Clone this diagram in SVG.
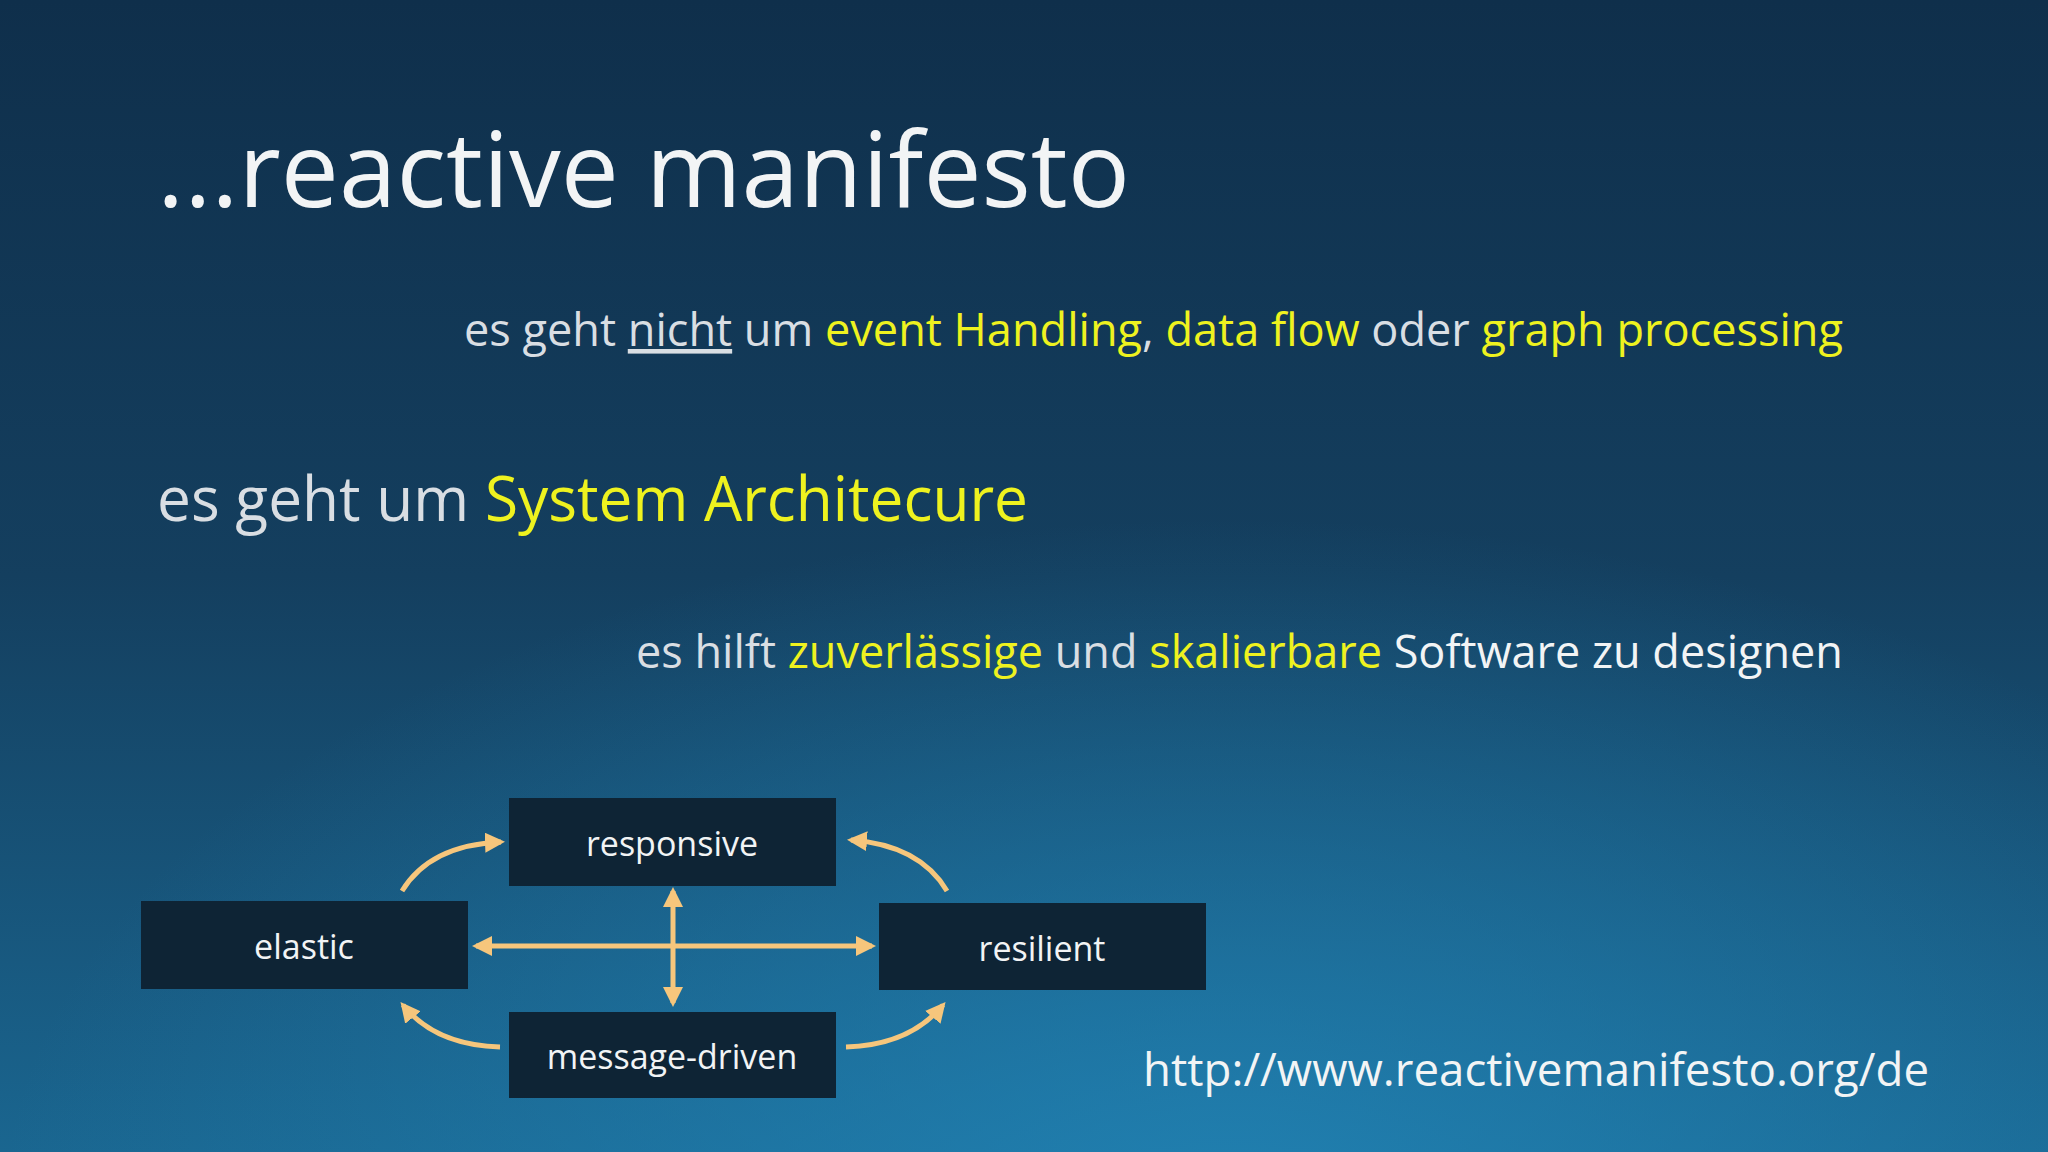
<svg xmlns="http://www.w3.org/2000/svg" width="2048" height="1152" viewBox="0 0 2048 1152">
<defs>
<linearGradient id="bg" x1="0" y1="0" x2="0" y2="1">
<stop offset="0" stop-color="#0f2f4b"/>
<stop offset="0.5" stop-color="#143f5f"/>
<stop offset="1" stop-color="#1a6690"/>
</linearGradient>
<radialGradient id="glow" cx="0.6" cy="1.05" r="0.6">
<stop offset="0" stop-color="#2286b8" stop-opacity="0.8"/>
<stop offset="1" stop-color="#2286b8" stop-opacity="0"/>
</radialGradient>
<marker id="ah" viewBox="0 0 10 10" refX="8" refY="5" markerWidth="4" markerHeight="4" orient="auto-start-reverse">
<path d="M0,0 L10,5 L0,10 z" fill="#f6c67c"/>
</marker>
<style>
text{font-family:"Open Sans","Noto Sans",sans-serif}
.g{fill:#d9dee3}
.y{fill:#eef21f}
.w{fill:#f2f4f5}
.box{fill:#0e2435}
.lbl{font-size:34px;fill:#f2f4f5;text-anchor:middle}
.ar{fill:none;stroke:#f6c67c;stroke-width:5;marker-end:url(#ah)}
.ar2{fill:none;stroke:#f6c67c;stroke-width:5;marker-end:url(#ah);marker-start:url(#ah)}
</style>
</defs>
<rect width="2048" height="1152" fill="url(#bg)"/>
<rect width="2048" height="1152" fill="url(#glow)"/>
<text x="157" y="207" font-size="104" class="w" textLength="973" lengthAdjust="spacingAndGlyphs">...reactive manifesto</text>
<text x="464" y="346" font-size="46" textLength="1379" lengthAdjust="spacingAndGlyphs"><tspan class="g">es geht </tspan><tspan class="g" text-decoration="underline">nicht</tspan><tspan class="g"> um </tspan><tspan class="y">event Handling</tspan><tspan class="g">, </tspan><tspan class="y">data flow</tspan><tspan class="g"> oder </tspan><tspan class="y">graph processing</tspan></text>
<text x="157" y="521" font-size="62" textLength="871" lengthAdjust="spacingAndGlyphs"><tspan class="g">es geht um </tspan><tspan class="y">System Architecure</tspan></text>
<text x="636" y="668" font-size="46" textLength="1207" lengthAdjust="spacingAndGlyphs"><tspan class="g">es hilft </tspan><tspan class="y">zuverlässige</tspan><tspan class="g"> und </tspan><tspan class="y">skalierbare</tspan><tspan class="w"> Software zu designen</tspan></text>
<text x="1143" y="1086" font-size="46" class="w" textLength="786" lengthAdjust="spacingAndGlyphs">http://www.reactivemanifesto.org/de</text>
<g id="connectors">
<line class="ar2" x1="476" y1="946" x2="872" y2="946"/>
<line class="ar2" x1="673" y1="891" x2="673" y2="1003"/>
<path class="ar" d="M402,891 Q430,845 501,842"/>
<path class="ar" d="M947,891 Q920,845 851,840"/>
<path class="ar" d="M500,1047 Q435,1045 403,1005"/>
<path class="ar" d="M846,1047 Q910,1045 943,1005"/>
</g>
<g id="responsive"><rect class="box" x="509" y="798" width="327" height="88"/><text class="lbl" x="672" y="856">responsive</text></g>
<g id="elastic"><rect class="box" x="141" y="901" width="327" height="88"/><text class="lbl" x="304" y="959">elastic</text></g>
<g id="resilient"><rect class="box" x="879" y="903" width="327" height="87"/><text class="lbl" x="1042" y="961">resilient</text></g>
<g id="message-driven"><rect class="box" x="509" y="1012" width="327" height="86"/><text class="lbl" x="672" y="1069">message-driven</text></g>
</svg>
